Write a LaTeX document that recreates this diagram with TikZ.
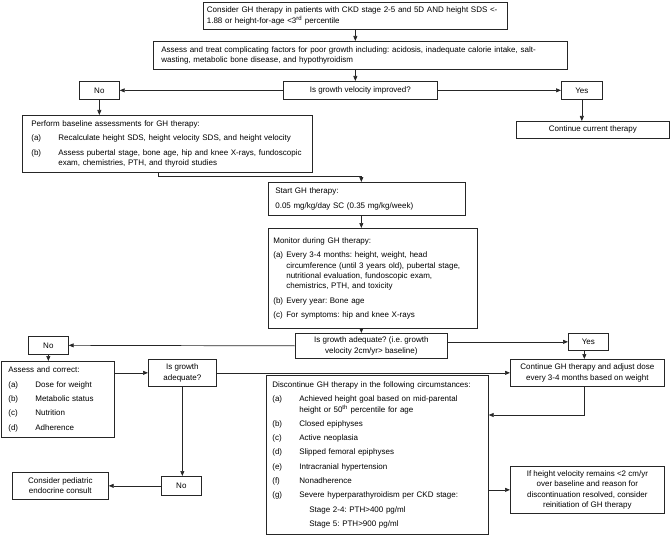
\documentclass[tikz,border=0pt]{standalone}
\usepackage{fontspec}
\setmainfont{Liberation Sans}
\usetikzlibrary{arrows.meta}
\frenchspacing
\newcommand{\gitem}[3]{\par\vspace{4pt}\hangindent=#1\hangafter=1\noindent\makebox[#1][l]{#2}#3\par}
\newcommand{\gline}[2]{\par\vspace{4pt}\noindent\hspace*{#1}#2\par}

\begin{document}
\begin{tikzpicture}[x=1pt, y=-1pt,
  box/.style={draw=black!85, line width=0.7pt, anchor=north west, align=left,
              inner ysep=0pt, font=\fontsize{8}{10.3}\selectfont},
  cbox/.style={box, align=center, inner xsep=1pt},
  arr/.style={-{Triangle[length=5pt, width=4pt]}, draw=black!85, line width=0.7pt}]
\useasboundingbox (0,0) rectangle (670,535);
\node[box, minimum width=304pt, minimum height=27pt, text width=297pt, inner xsep=3.5pt] (consider) at (203,2)
  {Consider GH therapy in patients with CKD stage 2-5 and 5D AND height SDS <-\\1.88 or height-for-age <3\textsuperscript{rd} percentile};
\node[box, minimum width=414pt, minimum height=28pt, text width=398pt, inner xsep=8pt] (factors) at (153,41)
  {Assess and treat complicating factors for poor growth including: acidosis, inadequate calorie intake, salt-\\wasting, metabolic bone disease, and hypothyroidism};
\node[cbox, minimum width=154pt, minimum height=18pt] (velo) at (283,81) {Is growth velocity improved?};
\node[cbox, minimum width=40pt, minimum height=18pt] (noA) at (79,81) {No};
\node[cbox, minimum width=41pt, minimum height=18pt] (yesA) at (561,81) {Yes};
\node[cbox, minimum width=153pt, minimum height=17pt] (keep) at (516,121) {Continue current therapy};
\node[box, minimum width=290pt, minimum height=57pt, text width=272pt, inner xsep=9pt] (base) at (22,115)
  {Perform baseline assessments for GH therapy:
   \gitem{27pt}{(a)}{Recalculate height SDS, height velocity SDS, and height velocity}
   \gitem{27pt}{(b)}{Assess pubertal stage, bone age, hip and knee X-rays, fundoscopic\newline exam, chemistries, PTH, and thyroid studies}};
\node[box, minimum width=197pt, minimum height=33pt, text width=183pt, inner xsep=7pt] (startgh) at (268,182)
  {Start GH therapy:\par\vspace{4.5pt}0.05 mg/kg/day SC (0.35 mg/kg/week)};
\node[box, minimum width=209pt, minimum height=100pt, text width=199pt, inner xsep=5pt] (monitor) at (268,228)
  {Monitor during GH therapy:
   \gitem{13pt}{(a)}{Every 3-4 months: height, weight, head\newline circumference (until 3 years old), pubertal stage,\newline nutritional evaluation, fundoscopic exam,\newline chemistrics, PTH, and toxicity}
   \gitem{13pt}{(b)}{Every year: Bone age}
   \gitem{13pt}{(c)}{For symptoms: hip and knee X-rays}};
\node[cbox, minimum width=152pt, minimum height=25pt] (adequate) at (295,333)
  {Is growth adequate? (i.e. growth\\velocity 2cm/yr> baseline)};
\node[cbox, minimum width=40pt, minimum height=18pt] (noB) at (28,336) {No};
\node[cbox, minimum width=40pt, minimum height=17pt] (yesB) at (568,333) {Yes};
\node[box, minimum width=113pt, minimum height=76pt, text width=99pt, inner xsep=7pt] (fix) at (1,361)
  {Assess and correct:
   \gitem{27pt}{(a)}{Dose for weight}
   \gitem{27pt}{(b)}{Metabolic status}
   \gitem{27pt}{(c)}{Nutrition}
   \gitem{27pt}{(d)}{Adherence}};
\node[cbox, minimum width=68pt, minimum height=27pt] (adequate2) at (148,359) {Is growth\\adequate?};
\node[cbox, minimum width=154pt, minimum height=27pt] (adjust) at (510,359)
  {Continue GH therapy and adjust dose\\every 3-4 months based on weight};
\node[box, minimum width=222pt, minimum height=159pt, text width=210pt, inner xsep=6pt] (stop) at (266,375)
  {Discontinue GH therapy in the following circumstances:
   \gitem{27pt}{(a)}{Achieved height goal based on mid-parental\newline height or 50\textsuperscript{th} percentile for age}
   \gitem{27pt}{(b)}{Closed epiphyses}
   \gitem{27pt}{(c)}{Active neoplasia}
   \gitem{27pt}{(d)}{Slipped femoral epiphyses}
   \gitem{27pt}{(e)}{Intracranial hypertension}
   \gitem{27pt}{(f)}{Nonadherence}
   \gitem{27pt}{(g)}{Severe hyperparathyroidism per CKD stage:}
   \gline{37pt}{Stage 2-4: PTH>400 pg/ml}
   \gline{37pt}{Stage 5: PTH>900 pg/ml}};
\node[cbox, minimum width=40pt, minimum height=19pt] (noC) at (161,476) {No};
\node[cbox, minimum width=96pt, minimum height=27pt] (consult) at (12,472) {Consider pediatric\\endocrine consult};
\node[cbox, minimum width=154pt, minimum height=47pt] (restart) at (510,466)
  {If height velocity remains <2 cm/yr\\over baseline and reason for\\discontinuation resolved, consider\\reinitiation of GH therapy};
\draw[arr] (consider.south) -- (consider.south |- factors.north);
\draw[arr] (consider.south |- factors.south) -- (consider.south |- velo.north);
\draw[arr] (velo.west) -- (noA.east);
\draw[arr] (velo.east) -- (yesA.west);
\draw[arr] (noA.south) -- (noA.south |- base.north);
\draw[arr] (yesA.south) -- (yesA.south |- keep.north);
\draw[arr] ([xshift=-9pt]base.south) -- ++(0,4) -| ([xshift=-5.5pt]startgh.north);
\draw[arr] ([xshift=-5.5pt]startgh.south) -- ([xshift=-5.5pt]startgh.south |- monitor.north);
\draw[arr] ([xshift=-5.5pt]startgh.south |- monitor.south) -- ([xshift=-5.5pt]startgh.south |- adequate.north);
\draw[arr] (adequate.west) -- (noB.east);
\draw[arr] (adequate.east |- yesB.west) -- (yesB.west);
\draw[arr] (noB.south) -- (noB.south |- fix.north);
\draw[arr] ([xshift=-4pt]yesB.south) -- ([xshift=-4pt]yesB.south |- adjust.north);
\draw[arr] (fix.east |- adequate2.west) -- (adequate2.west);
\draw[arr] (adequate2.east) -- (adjust.west);
\draw[arr] (adequate2.south) -- (adequate2.south |- noC.north);
\draw[arr] (noC.west) -- (consult.east);
\draw[arr] ([xshift=-3pt]adjust.south) |- ([yshift=-40pt]stop.north east);
\draw[arr] (stop.east |- restart.west) -- (restart.west);
\end{tikzpicture}
\end{document}
